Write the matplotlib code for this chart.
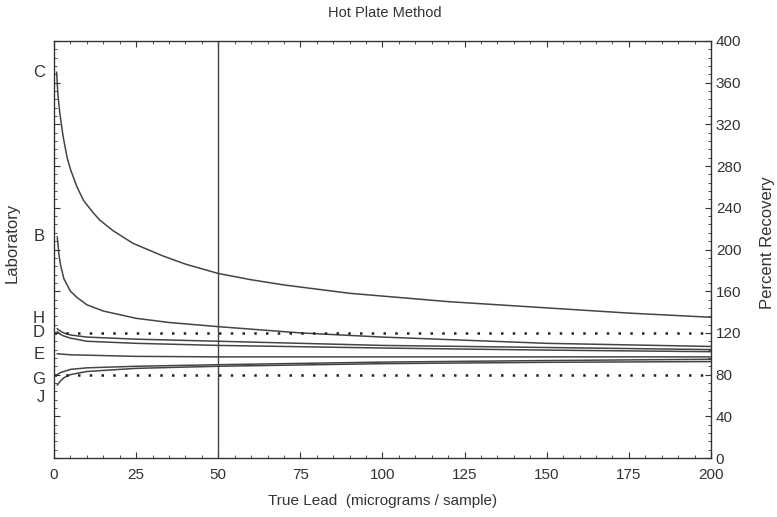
#!/usr/bin/python3
# Hot plate method: percent recovery vs true lead, one curve per laboratory
import matplotlib
matplotlib.use("Agg")
import matplotlib.pyplot as plt
from matplotlib.ticker import MultipleLocator
from matplotlib import transforms

plt.rcParams["font.family"] = ["Liberation Sans Narrow", "Liberation Sans", "DejaVu Sans"]

# values
x_c = [0.8, 1.2, 1.8, 2.8, 4, 5, 7, 9, 12, 14, 18, 24, 33, 40, 50, 60, 70, 90, 120, 150, 175, 200]
rec_c = [370, 348, 330, 308, 288, 277, 260, 247, 235, 228, 218, 206, 194, 186, 177, 171, 166, 158, 150, 144, 139, 135]

x_b = [1, 1.5, 2, 3, 5, 7, 10, 15, 25, 35, 50, 75, 100, 150, 200]
rec_b = [212, 195, 185, 172, 160, 154, 147, 141, 134, 130, 126, 120, 116, 110, 107]

x_hd = [1, 2, 3, 5, 10, 25, 50, 100, 150, 200]
rec_h = [124, 121.5, 120, 118, 116, 114, 112, 108, 106, 104]
rec_d = [121, 118.5, 117, 115, 112, 110, 108, 105.5, 103.5, 102]

x_e = [1, 5, 25, 50, 100, 200]
rec_e = [100, 99, 97.5, 97, 97, 97]

x_gj = [1, 2, 3, 5, 10, 25, 50, 100, 150, 200]
rec_g = [80, 82, 83, 85, 86.5, 88, 89.5, 92, 93.5, 94.7]
rec_j = [70, 74, 77, 80, 83, 86, 88, 90.5, 91.8, 92.5]

labs = ["C", "B", "H", "D", "E", "G", "J"]
lab_y = [370, 212, 134, 120, 99, 75, 58.5]   # where the letters sit on the left

limits = [80, 120]
ref_lead = 50

fig = plt.figure(figsize=(7.77, 5.17), dpi=100)
ax = fig.add_axes([0.0695, 0.1141, 0.8455, 0.8066])

col = "#444444"
series = [(x_c, rec_c), (x_b, rec_b), (x_hd, rec_h), (x_hd, rec_d),
          (x_e, rec_e), (x_gj, rec_g), (x_gj, rec_j)]
for xs, ys in series:
    ax.plot(xs, ys, color=col, lw=1.1)

for lim in limits:
    ax.axhline(lim, color="#222222", lw=1.8, linestyle=(0, (1, 3.7)))
ax.axvline(ref_lead, color=col, lw=1.0)

ax.set_xlim(0, 200)
ax.set_ylim(0, 400)
ax.xaxis.set_major_locator(MultipleLocator(25))
ax.xaxis.set_minor_locator(MultipleLocator(5))
ax.yaxis.set_major_locator(MultipleLocator(40))
ax.yaxis.set_minor_locator(MultipleLocator(8))
ax.tick_params(which="both", direction="in", top=True, right=True, left=True,
               labelleft=False, labelright=True, colors="#333333", labelsize=11)
ax.tick_params(axis="x", pad=7)
ax.tick_params(which="major", length=4, width=0.8)
ax.tick_params(which="minor", length=2, width=0.6)
for s in ax.spines.values():
    s.set_color("#333333")
    s.set_linewidth(1.0)

trans = transforms.blended_transform_factory(ax.transAxes, ax.transData)
for name, yy in zip(labs, lab_y):
    ax.text(-0.014, yy, name, transform=trans, ha="right", va="center",
            fontsize=12, color="#333333")

ax.set_xlabel("True Lead  (micrograms / sample)", fontsize=11, color="#333333", labelpad=9)
fig.text(0.016, 0.53, "Laboratory", rotation=90, ha="center", va="center",
         fontsize=12, color="#333333")
fig.text(0.988, 0.53, "Percent Recovery", rotation=90, ha="center", va="center",
         fontsize=12, color="#333333")
fig.text(0.495, 0.974, "Hot Plate Method", ha="center", va="center",
         fontsize=10.5, color="#333333")

plt.savefig("out.png", dpi=100)
